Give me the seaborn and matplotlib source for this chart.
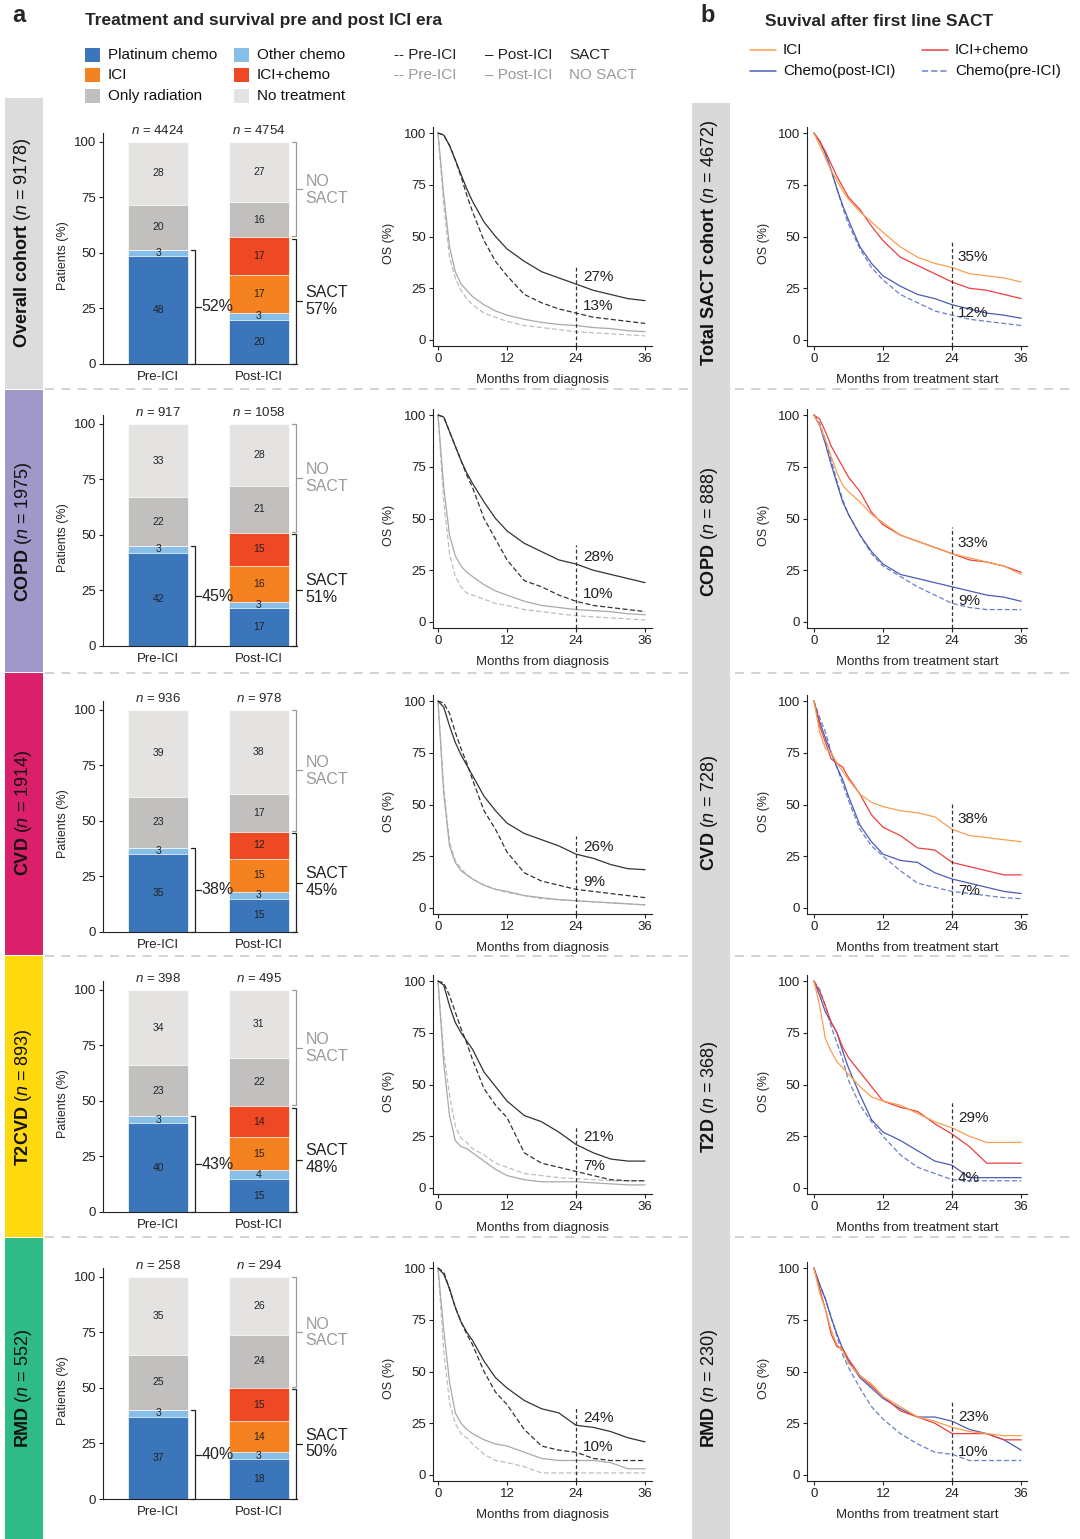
import numpy as np
import matplotlib
matplotlib.use("Agg")
import matplotlib.pyplot as plt
import seaborn as sns
from matplotlib.patches import Rectangle
from matplotlib.lines import Line2D

sns.set_theme(style="ticks")
plt.rcParams['font.family'] = ['Liberation Sans', 'DejaVu Sans']
plt.rcParams['mathtext.fontset'] = 'custom'
plt.rcParams['mathtext.rm'] = 'Liberation Sans'
plt.rcParams['mathtext.it'] = 'Liberation Sans:italic'
plt.rcParams['mathtext.bf'] = 'Liberation Sans:bold'

# ---------------- data ----------------
cohorts_left = ["Overall cohort", "COPD", "CVD", "T2CVD", "RMD"]
cohort_n_left = [9178, 1975, 1914, 893, 552]
cohorts_right = ["Total SACT cohort", "COPD", "CVD", "T2D", "RMD"]
cohort_n_right = [4672, 888, 728, 368, 230]

treatments = ["Platinum chemo", "Other chemo", "ICI", "ICI+chemo", "Only radiation", "No treatment"]
eras = ["Pre-ICI", "Post-ICI"]
n_pre = [4424, 917, 936, 398, 258]
n_post = [4754, 1058, 978, 495, 294]
pre_pct = [[48, 3, 0, 0, 20, 28],
           [42, 3, 0, 0, 22, 33],
           [35, 3, 0, 0, 23, 39],
           [40, 3, 0, 0, 23, 34],
           [37, 3, 0, 0, 25, 35]]
post_pct = [[20, 3, 17, 17, 16, 27],
            [17, 3, 16, 15, 21, 28],
            [15, 3, 15, 12, 17, 38],
            [15, 4, 15, 14, 22, 31],
            [18, 3, 14, 15, 24, 26]]
sact_pre = [52, 45, 38, 43, 40]
sact_post = [57, 51, 45, 48, 50]

months = [0, 1, 2, 3, 4, 5, 6, 8, 10, 12, 15, 18, 21, 24, 27, 30, 33, 36]

# middle panels: OS from diagnosis
os_sact_post = [
    [100, 99, 94, 87, 80, 73, 67, 57, 50, 44, 38, 33, 30, 27, 24, 22, 20, 19],
    [100, 99, 92, 85, 78, 72, 67, 58, 50, 44, 38, 34, 30, 28, 25, 23, 21, 19],
    [100, 97, 88, 80, 74, 69, 64, 54, 47, 41, 36, 33, 30, 26, 24, 21, 19, 18.5],
    [100, 98, 88, 80, 75, 71, 67, 56, 49, 42, 35, 32, 27, 21, 17, 14, 13, 13],
    [100, 97, 90, 81, 74, 69, 65, 55, 47, 42, 36, 32, 30, 24, 23, 21, 18, 16]]
os_sact_pre = [
    [100, 99, 94, 87, 79, 70, 62, 48, 38, 31, 22, 18, 15, 13, 11, 10, 9, 8],
    [100, 99, 92, 85, 78, 71, 65, 50, 40, 30, 20, 17, 13, 10, 8, 7, 6, 5],
    [100, 99, 94, 85, 77, 70, 62, 47, 38, 27, 17, 13, 11, 9, 8, 7, 6, 5],
    [100, 99, 93, 85, 77, 70, 62, 48, 40, 34, 17, 12, 10, 8, 6, 4, 3.5, 3.5],
    [100, 98, 90, 81, 74, 68, 63, 50, 40, 34, 22, 14, 12, 11, 8, 7, 7, 7]]
os_nosact_post = [
    [100, 70, 45, 33, 27, 24, 21, 17, 14, 12, 10, 8.5, 7.5, 7, 6, 5.5, 4.5, 4],
    [100, 65, 42, 32, 27, 24, 22, 18, 15, 13, 10, 8, 7, 6, 5.5, 5, 4, 3.5],
    [100, 55, 30, 22, 18, 16, 14, 11, 9, 8, 6, 5, 4, 3.5, 3, 2.5, 2, 1.5],
    [100, 60, 35, 23, 20, 19, 17, 13, 9, 6, 4, 3, 3, 3, 2.5, 2, 1.5, 1.5],
    [100, 70, 45, 30, 25, 22, 20, 17, 15, 14, 11, 8, 7, 7, 7, 6, 3, 3]]
os_nosact_pre = [
    [100, 65, 40, 30, 24, 20, 17, 13, 11, 9, 7, 6, 5, 4, 3.5, 3, 2.5, 2],
    [100, 58, 33, 22, 17, 14, 13, 11, 9, 8, 6, 5, 4, 3, 2.5, 2, 1.5, 1],
    [100, 58, 32, 23, 19, 16, 14, 11, 9, 7.5, 6, 4.5, 4, 3.5, 3, 2.5, 2, 1.5],
    [100, 65, 45, 30, 24, 22, 19, 16, 12, 10, 7, 6, 5, 4.5, 4, 3.5, 3.5, 3.5],
    [100, 60, 35, 25, 20, 18, 15, 10, 7, 6, 4, 1, 1, 1, 1, 1, 1, 1]]
os24_sact_post = [27, 28, 26, 21, 24]
os24_sact_pre = [13, 10, 9, 7, 10]

# right panels: OS from treatment start
os_ici = [
    [100, 94, 88, 82, 77, 72, 68, 62, 57, 52, 45, 40, 37, 35, 32, 31, 30, 28],
    [100, 95, 88, 80, 72, 66, 63, 58, 52, 48, 42, 39, 36, 33, 31, 29, 27, 23],
    [100, 85, 77, 75, 70, 66, 62, 55, 51, 49, 47, 46, 44, 38, 35, 34, 33, 32],
    [100, 88, 72, 66, 61, 58, 55, 49, 44, 42, 40, 36, 32, 29, 25, 22, 22, 22],
    [100, 88, 80, 70, 63, 60, 54, 48, 44, 38, 33, 28, 26, 23, 21, 20, 19, 19]]
os_ici_chemo = [
    [100, 96, 91, 85, 79, 74, 69, 63, 55, 48, 40, 36, 32, 28, 25, 24, 22, 20],
    [100, 98, 92, 85, 80, 75, 70, 63, 53, 47, 42, 39, 36, 33, 30, 29, 27, 24],
    [100, 88, 80, 72, 70, 68, 63, 55, 45, 39, 35, 29, 28, 22, 20, 18, 16, 16],
    [100, 95, 88, 80, 75, 68, 63, 56, 49, 42, 39, 37, 31, 26, 20, 12, 12, 12],
    [100, 90, 80, 68, 62, 61, 56, 48, 43, 38, 31, 28, 25, 20, 20, 20, 17, 17]]
os_chemo_post = [
    [100, 96, 90, 82, 73, 65, 58, 45, 37, 31, 26, 22, 20, 17, 15, 13, 12, 10.5],
    [100, 95, 86, 76, 67, 58, 52, 42, 34, 28, 23, 21, 19, 17, 15, 13, 12, 10],
    [100, 90, 82, 75, 68, 62, 54, 40, 32, 26, 23, 22, 17, 14, 12, 10, 8, 7],
    [100, 93, 85, 80, 75, 66, 58, 45, 33, 27, 23, 18, 13, 11, 5, 5, 5, 5],
    [100, 92, 85, 76, 68, 61, 55, 47, 42, 37, 32, 28, 28, 26, 22, 20, 17, 12]]
os_chemo_pre = [
    [100, 96, 90, 82, 73, 64, 56, 44, 35, 29, 22, 18, 14, 12, 10, 9, 8, 7],
    [100, 96, 88, 78, 68, 59, 52, 42, 33, 27, 22, 17, 13, 9, 7, 6, 6, 6],
    [100, 92, 85, 75, 68, 60, 52, 38, 30, 25, 18, 12, 10, 8, 7, 6, 5, 4.5],
    [100, 96, 88, 78, 70, 62, 52, 40, 32, 25, 16, 10, 7, 4, 3.5, 3.5, 3.5, 3.5],
    [100, 92, 85, 76, 67, 58, 52, 42, 33, 27, 20, 15, 11, 10, 7, 7, 7, 7]]
os24_best = [35, 33, 38, 29, 23]
os24_chemo_pre = [12, 9, 7, 4, 10]

# ---------------- styles ----------------
W, H = 1080, 1539
bar_colors = ['#3B76BB', '#87BFE8', '#F58220', '#EE4824', '#C1C0BE', '#E4E3E1']
strip_colors = ['#DCDCDC', '#A198CA', '#DC1F6A', '#FFD90F', '#2FBB88']
c_dark = '#333333'
c_light = '#A9A9A9'
c_light2 = '#BEBEBE'
c_ici = '#F8A050'
c_icichemo = '#EE3E3E'
c_chemo = '#4A5CB5'
c_chemo_pre = '#6A7ECB'
dash = (0, (4, 2))

fig = plt.figure(figsize=(W / 100, H / 100), dpi=100)


def fx(x):
    return x / W


def fy(y):
    return 1 - y / H


def ax_px(l, t, r, b):
    return fig.add_axes([l / W, 1 - b / H, (r - l) / W, (b - t) / H])


def style_axes(ax):
    sns.despine(ax=ax)
    for s in ['left', 'bottom']:
        ax.spines[s].set_color('#222222')
        ax.spines[s].set_linewidth(0.8)
    ax.tick_params(axis='both', labelsize=9.5, length=3, width=0.8, pad=2, colors='#222222')
    ax.grid(False)


# ---------------- background strips / separators ----------------
row_spans = [(98, 389), (390, 672), (673, 955), (956, 1237), (1238, 1539)]
for (t, b), col in zip(row_spans, strip_colors):
    fig.add_artist(Rectangle((fx(5), fy(b)), fx(38), (b - t) / H, color=col, lw=0, transform=fig.transFigure, zorder=0))
fig.add_artist(Rectangle((fx(692), fy(1539)), fx(38), (1539 - 103) / H, color='#D9D9D9', lw=0,
                         transform=fig.transFigure, zorder=0))
for ysep in [389, 673, 956, 1237]:
    for x0, x1 in [(45, 690), (735, 1076)]:
        fig.add_artist(Line2D([fx(x0), fx(x1)], [fy(ysep)] * 2, color='#D0D0D0', lw=1.3,
                              ls=(0, (5, 4)), transform=fig.transFigure))

label_centers = [243, 532, 813, 1097, 1388]
for r in range(5):
    name_l = cohorts_left[r].replace(' ', r'\ ')
    fig.text(fx(23), fy(label_centers[r]), r"$\bf{" + name_l + "}$ ($n$ = " + str(cohort_n_left[r]) + ")",
             rotation=90, ha='center', va='center', fontsize=13, color='#111111')
    name_r = cohorts_right[r].replace(' ', r'\ ')
    fig.text(fx(710), fy(label_centers[r]), r"$\bf{" + name_r + "}$ ($n$ = " + str(cohort_n_right[r]) + ")",
             rotation=90, ha='center', va='center', fontsize=13, color='#111111')

# ---------------- header + legends ----------------
fig.text(fx(12), fy(16), 'a', fontsize=17, fontweight='bold', va='center')
fig.text(fx(700), fy(16), 'b', fontsize=17, fontweight='bold', va='center')
fig.text(fx(85), fy(21), 'Treatment and survival pre and post ICI era', fontsize=12.5, fontweight='bold', va='center')
fig.text(fx(765), fy(21), 'Suvival after first line SACT', fontsize=12.5, fontweight='bold', va='center')

leg_pos = [(85, 55), (234, 55), (85, 75), (234, 75), (85, 96), (234, 96)]
for (lx, ly), name, col in zip(leg_pos, treatments, bar_colors):
    fig.add_artist(Rectangle((fx(lx), fy(ly + 7)), 15 / W, 14 / H, color=col, lw=0, transform=fig.transFigure))
    fig.text(fx(lx + 23), fy(ly), name, fontsize=11, va='center', color='#111111')
for ly, col, tag in [(55, '#222222', 'SACT'), (75, '#9A9A9A', 'NO SACT')]:
    fig.text(fx(394), fy(ly), '-- Pre-ICI', fontsize=11, va='center', color=col)
    fig.text(fx(485), fy(ly), '\u2013 Post-ICI', fontsize=11, va='center', color=col)
    fig.text(fx(569), fy(ly), tag, fontsize=11, va='center', color=col)

rleg = [(750, 50, c_ici, '-', 'ICI'), (922, 50, c_icichemo, '-', 'ICI+chemo'),
        (750, 71, c_chemo, '-', 'Chemo(post-ICI)'), (922, 71, c_chemo_pre, (0, (4, 2)), 'Chemo(pre-ICI)')]
for lx, ly, col, ls, name in rleg:
    fig.add_artist(Line2D([fx(lx), fx(lx + 26)], [fy(ly)] * 2, color=col, lw=1.1, ls=ls, transform=fig.transFigure))
    fig.text(fx(lx + 33), fy(ly), name, fontsize=11, va='center', color='#111111')

# ---------------- panels ----------------
dk = [0, 282, 568, 848, 1135]
bw = 0.59
for r in range(5):
    d = dk[r]
    # ---- stacked bars ----
    ax = ax_px(103, 133 + d, 297, 364 + d)
    seg = np.array([pre_pct[r], post_pct[r]], dtype=float)
    scaled = seg / seg.sum(axis=1, keepdims=True) * 100
    cum = np.cumsum(scaled, axis=1)
    for k in range(5, -1, -1):
        sns.barplot(x=eras, y=cum[:, k], color=bar_colors[k], width=bw, saturation=1,
                    edgecolor='white', linewidth=0.5, ax=ax)
    for i in range(2):
        for k in range(6):
            if seg[i, k] > 0:
                ax.text(i, cum[i, k] - scaled[i, k] / 2, str(int(seg[i, k])), ha='center', va='center',
                        fontsize=7.5, color='#222222')
        ax.text(i, 102, r"$n$ = " + str([n_pre, n_post][i][r]), ha='center', va='bottom', fontsize=9.5)
    style_axes(ax)
    ax.set_xlim(-0.546, 1.377)
    ax.set_ylim(0, 104)
    ax.set_yticks([0, 25, 50, 75, 100])
    ax.tick_params(axis='x', length=0, pad=5)
    ax.set_xlabel('')
    ax.set_ylabel('Patients (%)', fontsize=9)
    ax.yaxis.set_label_coords(-0.175, 0.47)

    def bracket(x, y0, y1, col):
        ax.plot([x - 0.04, x, x, x - 0.04], [y0, y0, y1, y1], color=col, lw=0.9, clip_on=False)
        ax.plot([x, x + 0.06], [(y0 + y1) / 2] * 2, color=col, lw=0.9, clip_on=False)

    pre_top = cum[0, 1]
    bracket(0.365, 0, pre_top, '#222222')
    ax.text(0.43, pre_top / 2, f"{sact_pre[r]}%", ha='left', va='center', fontsize=11.5, color='#222222')
    post_top = cum[1, 3]
    bracket(1.365, 0, post_top - 0.5, '#222222')
    bracket(1.365, post_top + 0.5, 100, '#9A9A9A')
    ax.text(1.46, post_top / 2, f"SACT\n{sact_post[r]}%", ha='left', va='center', fontsize=11.5,
            color='#222222', linespacing=1.15)
    ax.text(1.46, (post_top + 100) / 2, "NO\nSACT", ha='left', va='center', fontsize=11.5,
            color='#9A9A9A', linespacing=1.15)

    # ---- OS from diagnosis ----
    ax = ax_px(433, 127 + d, 652, 346 + d)
    for vals, col, ls in [(os_nosact_pre[r], c_light2, dash), (os_nosact_post[r], c_light, '-'),
                          (os_sact_pre[r], c_dark, dash), (os_sact_post[r], c_dark, '-')]:
        sns.lineplot(x=months, y=vals, color=col, linestyle=ls, lw=0.9, errorbar=None, ax=ax)
    ax.plot([24, 24], [-3, os24_sact_post[r] + 9], color=c_dark, lw=0.9, ls=(0, (3, 2)))
    ax.text(25.2, os24_sact_post[r] + 3.5, f"{os24_sact_post[r]}%", fontsize=11, va='center', color='#222222')
    ax.text(25.2, os24_sact_pre[r] + 3.5, f"{os24_sact_pre[r]}%", fontsize=11, va='center', color='#222222')
    style_axes(ax)
    ax.set_xlim(-0.87, 37.2)
    ax.set_ylim(-2.9, 102.9)
    ax.set_xticks([0, 12, 24, 36])
    ax.set_yticks([0, 25, 50, 75, 100])
    ax.set_ylabel('OS (%)', fontsize=9)
    ax.yaxis.set_label_coords(-0.175, 0.47)
    ax.set_xlabel('Months from diagnosis', fontsize=9.5)
    ax.xaxis.set_label_coords(0.5, -0.13)

    # ---- OS from treatment start ----
    ax = ax_px(807, 127 + d, 1027, 346 + d)
    for vals, col, ls in [(os_chemo_pre[r], c_chemo_pre, dash), (os_chemo_post[r], c_chemo, '-'),
                          (os_ici_chemo[r], c_icichemo, '-'), (os_ici[r], c_ici, '-')]:
        sns.lineplot(x=months, y=vals, color=col, linestyle=ls, lw=0.9, errorbar=None, ax=ax)
    ax.plot([24, 24], [-3, os24_best[r] + 13], color=c_dark, lw=0.9, ls=(0, (3, 2)))
    ax.text(25.0, os24_best[r] + 5, f"{os24_best[r]}%", fontsize=11, va='center', color='#222222')
    ax.text(25.0, os24_chemo_pre[r] + 1, f"{os24_chemo_pre[r]}%", fontsize=11, va='center', color='#222222')
    style_axes(ax)
    ax.set_xlim(-1.2, 37.0)
    ax.set_ylim(-2.9, 102.9)
    ax.set_xticks([0, 12, 24, 36])
    ax.set_yticks([0, 25, 50, 75, 100])
    ax.set_ylabel('OS (%)', fontsize=9)
    ax.yaxis.set_label_coords(-0.17, 0.47)
    ax.set_xlabel('Months from treatment start', fontsize=9.5)
    ax.xaxis.set_label_coords(0.5, -0.13)

fig.savefig('out.png', dpi=100)
